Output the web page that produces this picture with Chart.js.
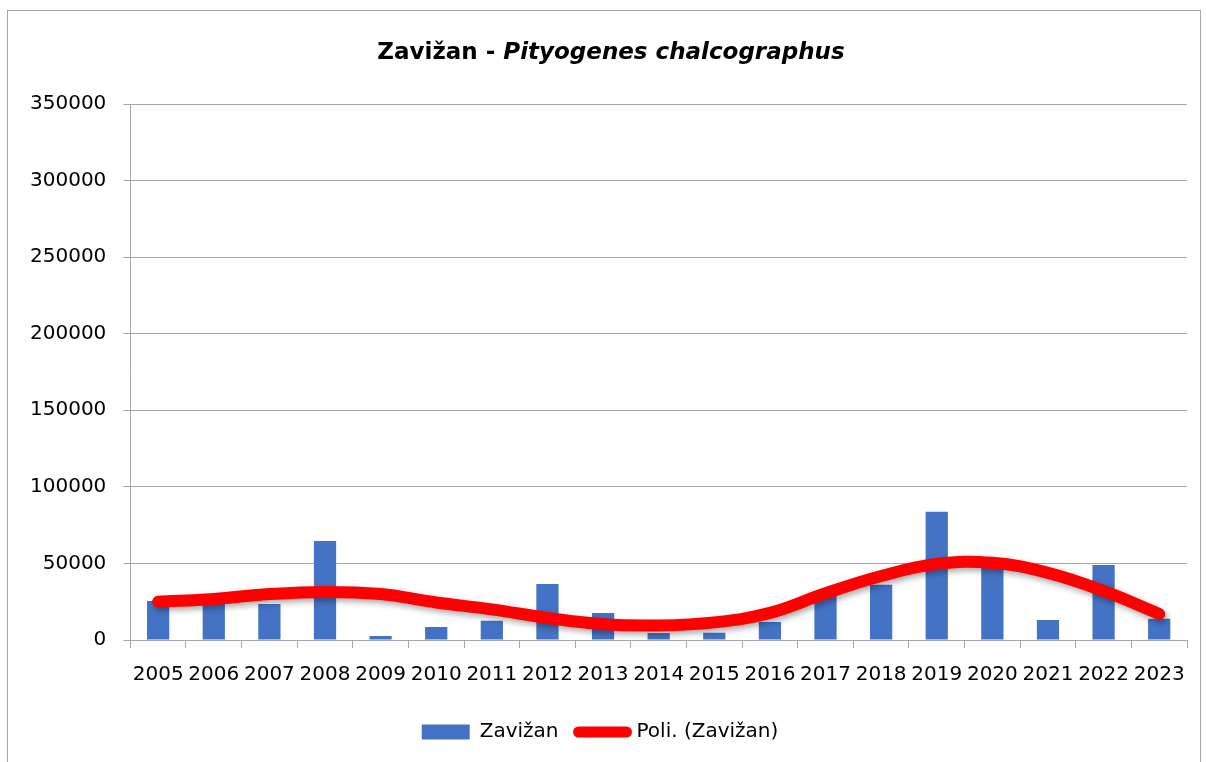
<!DOCTYPE html>
<html>
<head>
<meta charset="utf-8">
<script src="https://cdn.jsdelivr.net/npm/chart.js@4"></script>
<style>
  body { margin: 0; background: #fff; }
  #wrap { position: relative; width: 1206px; height: 762px; overflow: hidden; }
  #frame { position: absolute; left: 7px; top: 10px; width: 1194px; height: 800px; border: 1px solid #a6a6a6; box-sizing: border-box; }
  canvas { position: absolute; left: 0; top: 0; }
</style>
</head>
<body>
<div id="wrap">
  <div id="frame"></div>
  <canvas id="myChart" width="1206" height="762"></canvas>
</div>
<script>
const years = ['2005','2006','2007','2008','2009','2010','2011','2012','2013','2014',
               '2015','2016','2017','2018','2019','2020','2021','2022','2023'];
const zavizan = [25500, 24000, 23500, 64700, 2600, 8500, 12500, 36600, 17700, 4500,
                 4800, 11800, 29000, 36000, 83700, 47000, 13000, 49000, 13800];
const trend = [25000, 26800, 30000, 31400, 30000, 24500, 20000, 14400, 10300, 9500,
               11500, 17700, 30500, 41800, 49700, 50400, 43800, 32000, 17000];
const yTicks = [0, 50000, 100000, 150000, 200000, 250000, 300000, 350000];

const gray = '#a6a6a6';
const font = "'DejaVu Sans', sans-serif";

const titlePlugin = {
  id: 'mixedTitle',
  afterDraw(chart) {
    const ctx = chart.ctx;
    const a = 'Zavižan - ', b = 'Pityogenes chalcographus';
    ctx.save();
    ctx.fillStyle = '#000';
    ctx.textBaseline = 'middle';
    ctx.font = "bold 23px " + font;
    const wa = ctx.measureText(a).width;
    ctx.font = "italic bold 23px " + font;
    const wb = ctx.measureText(b).width;
    let x = 611 - (wa + wb) / 2;
    ctx.font = "bold 23px " + font;
    ctx.fillText(a, x, 53);
    ctx.font = "italic bold 23px " + font;
    ctx.fillText(b, x + wa, 53);
    ctx.restore();
  }
};

const shadowPlugin = {
  id: 'lineShadow',
  beforeDatasetDraw(chart, args) {
    if (args.index !== 1) return;
    const ctx = chart.ctx;
    ctx.save();
    ctx.shadowColor = 'rgba(0,0,0,0.35)';
    ctx.shadowBlur = 6;
    ctx.shadowOffsetX = 2;
    ctx.shadowOffsetY = 3;
  },
  afterDatasetDraw(chart, args) {
    if (args.index !== 1) return;
    chart.ctx.restore();
  }
};

new Chart(
  document.getElementById('myChart'),
  {
    type: 'bar',
    data: {
      labels: years,
      datasets: [
        {
          label: 'Zavižan',
          data: zavizan,
          backgroundColor: '#4472C4',
          borderWidth: 0,
          barPercentage: 0.4,
          categoryPercentage: 1,
          order: 1,
          pointStyle: 'rect'
        },
        {
          type: 'line',
          label: 'Poli. (Zavižan)',
          data: trend,
          borderColor: '#FF0000',
          backgroundColor: '#FF0000',
          borderWidth: 12,
          borderCapStyle: 'round',
          pointRadius: 0,
          tension: 0.4,
          fill: false,
          order: 0,
          pointStyle: 'line'
        }
      ]
    },
    options: {
      responsive: false,
      animation: false,
      layout: { padding: { left: 13, right: 19, top: 104, bottom: 10 } },
      plugins: {
        title: { display: false },
        tooltip: { enabled: false },
        legend: {
          position: 'bottom',
          labels: {
            sort: (a, b) => a.datasetIndex - b.datasetIndex,
            generateLabels: chart => {
              const items = Chart.defaults.plugins.legend.labels.generateLabels(chart);
              items.forEach(it => {
                if (it.datasetIndex === 1) { it.lineCap = 'round'; it.lineWidth = 11; }
              });
              return items;
            },
            usePointStyle: true,
            pointStyleWidth: 48,
            boxHeight: 15,
            color: '#000',
            font: { family: font, size: 20 },
            padding: 20
          }
        }
      },
      scales: {
        x: {
          grid: { drawOnChartArea: false, color: gray, tickLength: 8, offset: true },
          border: { color: gray },
          ticks: { color: '#000', font: { family: font, size: 20 }, maxRotation: 0, autoSkip: false, padding: 15 }
        },
        y: {
          min: 0,
          max: 350000,
          afterBuildTicks: axis => { axis.ticks = yTicks.map(v => ({ value: v })); },
          grid: { color: gray, tickLength: 7 },
          border: { color: gray },
          ticks: { color: '#000', font: { family: font, size: 20 }, padding: 17, callback: v => String(v) }
        }
      }
    },
    plugins: [titlePlugin, shadowPlugin]
  }
);
</script>
</body>
</html>
